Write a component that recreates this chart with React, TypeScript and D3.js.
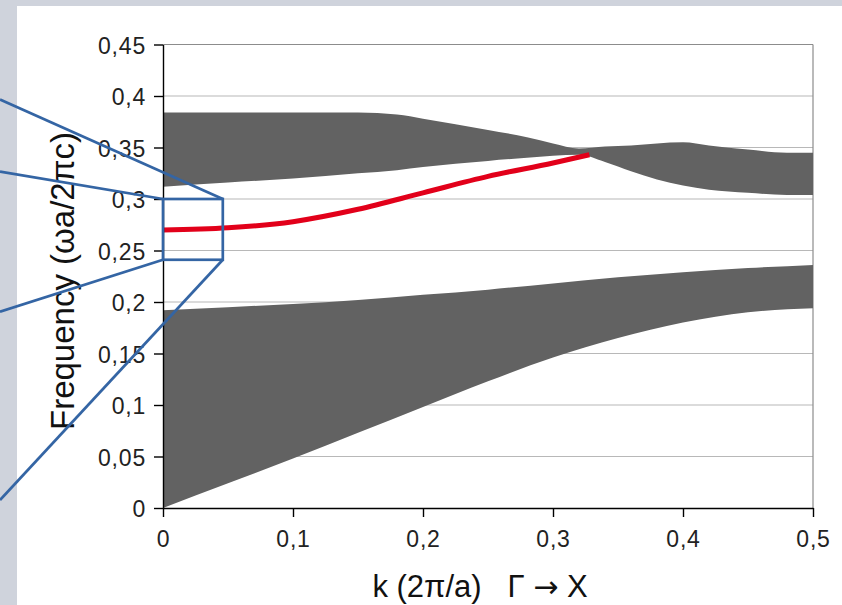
import React, { useEffect, useRef } from "react";
import * as d3 from "d3";

// axis ticks (decimal comma as in the original)
const kTicks = [0, 0.1, 0.2, 0.3, 0.4, 0.5];
const kTickLabels = ["0", "0,1", "0,2", "0,3", "0,4", "0,5"];
const freqTicks = [0, 0.05, 0.1, 0.15, 0.2, 0.25, 0.3, 0.35, 0.4, 0.45];
const freqTickLabels = ["0", "0,05", "0,1", "0,15", "0,2", "0,25", "0,3", "0,35", "0,4", "0,45"];

// first (lower) band
const lowerK = [0, 0.05, 0.1, 0.15, 0.2, 0.25, 0.3, 0.35, 0.4, 0.45, 0.5];
const lowerTop = [0.192, 0.195, 0.198, 0.202, 0.207, 0.212, 0.218, 0.224, 0.229, 0.233, 0.236];
const lowerBottom = [0, 0.024, 0.048, 0.073, 0.098, 0.123, 0.146, 0.165, 0.18, 0.19, 0.194];

// second (upper) band
const upperK = [0, 0.05, 0.1, 0.15, 0.18, 0.2, 0.25, 0.28, 0.3, 0.32, 0.34, 0.36, 0.38, 0.4, 0.42, 0.45, 0.48, 0.5];
const upperTop = [0.384, 0.384, 0.384, 0.384, 0.382, 0.378, 0.367, 0.36, 0.354, 0.349, 0.351, 0.352, 0.354, 0.355, 0.352, 0.348, 0.345, 0.345];
const upperBottom = [0.312, 0.316, 0.32, 0.325, 0.328, 0.331, 0.337, 0.34, 0.342, 0.343, 0.336, 0.327, 0.319, 0.313, 0.309, 0.306, 0.304, 0.304];

// defect mode (red)
const modeK = [0, 0.05, 0.1, 0.15, 0.2, 0.25, 0.3, 0.328];
const modeFreq = [0.27, 0.272, 0.278, 0.29, 0.306, 0.322, 0.335, 0.343];

// zoom box (k range, frequency range) and where its leader lines leave the page edge
const zoomK = [0, 0.046];
const zoomFreq = [0.241, 0.3];
const leaderEnds = [0.3965, 0.3266, 0.1905, 0.0078];

const App = () => {
  const svgEl = useRef<SVGSVGElement>(null);

  useEffect(() => {
    if (!svgEl.current) return;
    drawChartOn(svgEl.current);
  }, [svgEl]);

  return (
    <svg
      ref={svgEl}
      width={842}
      height={605}
      style={{ position: "absolute", left: 0, top: 0, display: "block" }}
    ></svg>
  );
};

function drawChartOn(svgEl: SVGSVGElement) {
  const W = 842;
  const H = 605;
  const margin = { top: 44.5, right: 29, bottom: 97, left: 163 };
  const font = "'Liberation Sans', Arial, sans-serif";

  const svg = d3.select(svgEl);
  svg.selectAll("*").remove();

  svg.append("rect").attr("width", W).attr("height", H).attr("fill", "#ffffff");
  svg.append("rect").attr("width", W).attr("height", 6).attr("fill", "#cfd3dc");
  svg.append("rect").attr("width", 17).attr("height", H).attr("fill", "#cfd3dc");

  const x = d3.scaleLinear().domain([0, 0.5]).range([margin.left, W - margin.right]);
  const y = d3.scaleLinear().domain([0, 0.45]).range([H - margin.bottom, margin.top]);

  // grid
  svg
    .append("g")
    .selectAll("line")
    .data(freqTicks.slice(1))
    .join("line")
    .attr("x1", x(0))
    .attr("x2", x(0.5))
    .attr("y1", (d) => y(d))
    .attr("y2", (d) => y(d))
    .attr("stroke", (d, i) => (i === freqTicks.length - 2 ? "#8c8c8c" : "#b8b8b8"))
    .attr("stroke-width", 1.2);

  svg
    .append("line")
    .attr("x1", x(0.5))
    .attr("x2", x(0.5))
    .attr("y1", y(0))
    .attr("y2", y(0.45))
    .attr("stroke", "#8c8c8c")
    .attr("stroke-width", 1.2);

  // bands
  const lower = lowerK.map((k, i) => ({ k, lo: lowerBottom[i], hi: lowerTop[i] }));
  const upper = upperK.map((k, i) => ({ k, lo: upperBottom[i], hi: upperTop[i] }));

  const bandArea = d3
    .area<{ k: number; lo: number; hi: number }>()
    .x((d) => x(d.k))
    .y0((d) => y(d.lo))
    .y1((d) => y(d.hi))
    .curve(d3.curveMonotoneX);

  svg.append("path").datum(lower).attr("fill", "#626262").attr("d", bandArea);
  svg.append("path").datum(upper).attr("fill", "#626262").attr("d", bandArea);

  // defect mode
  const mode = modeK.map((k, i) => ({ k, f: modeFreq[i] }));
  const line = d3
    .line<{ k: number; f: number }>()
    .x((d) => x(d.k))
    .y((d) => y(d.f))
    .curve(d3.curveMonotoneX);

  svg
    .append("path")
    .datum(mode)
    .attr("fill", "none")
    .attr("stroke", "#e2001a")
    .attr("stroke-width", 5)
    .attr("d", line);

  // axes
  const yAxis = svg
    .append("g")
    .attr("transform", "translate(" + x(0) + ",0)")
    .call(
      d3
        .axisLeft(y)
        .tickValues(freqTicks)
        .tickFormat((d, i) => freqTickLabels[i])
        .tickSize(9)
        .tickSizeOuter(0)
        .tickPadding(8)
    );

  const xAxis = svg
    .append("g")
    .attr("transform", "translate(0," + y(0) + ")")
    .call(
      d3
        .axisBottom(x)
        .tickValues(kTicks)
        .tickFormat((d, i) => kTickLabels[i])
        .tickSize(9)
        .tickSizeOuter(0)
        .tickPadding(14)
    );

  [yAxis, xAxis].forEach((g) => {
    g.select(".domain").attr("stroke", "#000").attr("stroke-width", 1.4);
    g.selectAll(".tick line").attr("stroke", "#000").attr("stroke-width", 1.4);
    g.selectAll(".tick text")
      .attr("fill", "#222")
      .style("font-family", font)
      .style("font-size", "23px")
      .style("letter-spacing", "0.8px");
  });
  yAxis.selectAll(".tick text").attr("dy", "0.38em");

  // titles
  svg
    .append("text")
    .attr("transform", "translate(74,281) rotate(-90)")
    .attr("text-anchor", "middle")
    .style("font-family", font)
    .style("font-size", "33px")
    .attr("fill", "#111")
    .text("Frequency (ωa/2πc)");

  const xTitle = svg
    .append("text")
    .attr("x", 480)
    .attr("y", 597)
    .attr("text-anchor", "middle")
    .style("font-family", font)
    .style("font-size", "31px")
    .style("white-space", "pre")
    .attr("fill", "#111");
  xTitle.append("tspan").text("k (2π/a)   Γ ");
  xTitle
    .append("tspan")
    .style("font-family", "'DejaVu Sans', sans-serif")
    .style("font-size", "30px")
    .text("→");
  xTitle.append("tspan").text(" X");

  // zoom box with leader lines
  const bx0 = x(zoomK[0]);
  const bx1 = x(zoomK[1]);
  const by0 = y(zoomFreq[1]);
  const by1 = y(zoomFreq[0]);
  const corners = [
    [bx1, by0],
    [bx0, by0],
    [bx0, by1],
    [bx1, by1],
  ];

  const callout = svg
    .append("g")
    .attr("stroke", "#3465a4")
    .attr("stroke-width", 2.7)
    .attr("fill", "none");

  callout
    .append("rect")
    .attr("x", bx0)
    .attr("y", by0)
    .attr("width", bx1 - bx0)
    .attr("height", by1 - by0);

  callout
    .selectAll("line")
    .data(leaderEnds)
    .join("line")
    .attr("x1", 0)
    .attr("y1", (d) => y(d))
    .attr("x2", (d, i) => corners[i][0])
    .attr("y2", (d, i) => corners[i][1]);
}

export default App;
